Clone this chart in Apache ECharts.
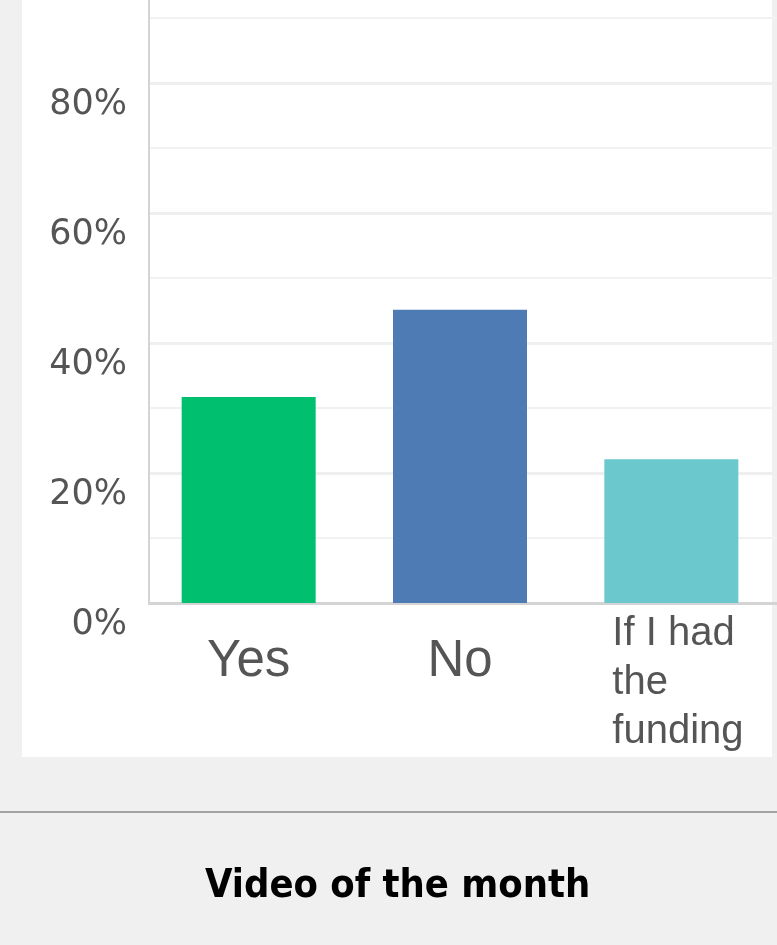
<!DOCTYPE html>
<html>
<head>
<meta charset="utf-8">
<title>Video of the month</title>
<script src="https://cdn.jsdelivr.net/npm/echarts@6/dist/echarts.min.js"></script>
<style>
  html, body { margin: 0; padding: 0; background: #f0f0f0; overflow: hidden; }
  /* the screenshot is cropped: 100% sits above the top edge, so the canvas is taller and pulled up */
  #chart { width: 777px; height: 1005px; margin-top: -60px; }
</style>
</head>
<body>
<div id="chart"></div>
<script>
// survey answers and their share of responses (%)
const categories = ['Yes', 'No', 'If I had the funding'];
const shares = [31.7, 45.1, 22.1];
const barColors = ['#00bf6f', '#4f7bb4', '#6bc8cc'];
const yTicks = [0, 20, 40, 60, 80, 100];

const SHIFT = 60; // canvas offset above the page

// wrap long answers into short lines, like the survey tool does
function wrapLabel(text, maxLen) {
  const lines = [];
  let line = '';
  text.split(' ').forEach((word) => {
    const next = line ? line + ' ' + word : word;
    if (next.length > maxLen && line) {
      lines.push(line);
      line = word;
    } else {
      line = next;
    }
  });
  if (line) lines.push(line);
  return lines;
}

const chart = echarts.init(document.getElementById('chart'), null, { renderer: 'canvas' });

chart.setOption({
  animation: false,
  backgroundColor: '#f0f0f0',
  graphic: [
    {
      type: 'rect',
      z: -10,
      shape: { x: 22, y: SHIFT, width: 750, height: 757 },
      style: { fill: '#ffffff' }
    },
    {
      // hide the grid stub left of the (offset) y axis line
      type: 'rect',
      z: 1,
      shape: { x: 140, y: SHIFT, width: 8, height: 610 },
      style: { fill: '#ffffff' }
    },
    {
      type: 'line',
      z: -10,
      shape: { x1: 0, y1: 812 + SHIFT, x2: 777, y2: 812 + SHIFT },
      style: { stroke: '#a3a3a3', lineWidth: 2 }
    }
  ],
  title: {
    text: 'Video of the month',
    left: 200,
    top: 862 + SHIFT,
    textStyle: {
      fontFamily: '"DejaVu Sans Condensed", "Liberation Sans", sans-serif',
      fontWeight: 'bold',
      fontSize: 39.5,
      color: '#000000'
    }
  },
  grid: {
    left: 143,
    right: 0,
    top: 13,
    bottom: 342,
    containLabel: false
  },
  xAxis: {
    type: 'category',
    data: categories,
    axisLine: { lineStyle: { color: '#d4d4d4', width: 3 } },
    axisTick: { show: false },
    axisLabel: {
      margin: 6,
      interval: 0,
      formatter: (value) => {
        if (value.length > 10) {
          return wrapLabel(value, 8).map((l) => `{small|${l}}`).join('\n');
        }
        return `{big|${value}}`;
      },
      rich: {
        big: {
          fontFamily: '"Liberation Sans", Arial, sans-serif',
          fontSize: 51,
          lineHeight: 105,
          color: '#555555'
        },
        small: {
          fontFamily: '"Liberation Sans", Arial, sans-serif',
          fontSize: 40,
          lineHeight: 49,
          width: 118,
          align: 'left',
          color: '#555555'
        }
      }
    }
  },
  yAxis: {
    type: 'value',
    min: yTicks[0],
    max: yTicks[yTicks.length - 1],
    interval: yTicks[1] - yTicks[0],
    offset: -6,
    axisLine: { show: true, lineStyle: { color: '#d4d4d4', width: 2 } },
    axisTick: { show: false },
    axisLabel: {
      margin: 22,
      verticalAlign: 'top',
      lineHeight: 44,
      fontFamily: '"DejaVu Sans", Verdana, sans-serif',
      fontSize: 35,
      color: '#555555',
      formatter: (v) => `${v}%`
    },
    splitLine: { lineStyle: { color: '#efefef', width: 3 } },
    minorTick: { show: false, splitNumber: 2 },
    minorSplitLine: { show: true, lineStyle: { color: '#f2f2f2', width: 2 } }
  },
  series: [
    {
      type: 'bar',
      barWidth: 134,
      data: shares.map((v, i) => ({ value: v, itemStyle: { color: barColors[i] } }))
    }
  ]
});
</script>
</body>
</html>
